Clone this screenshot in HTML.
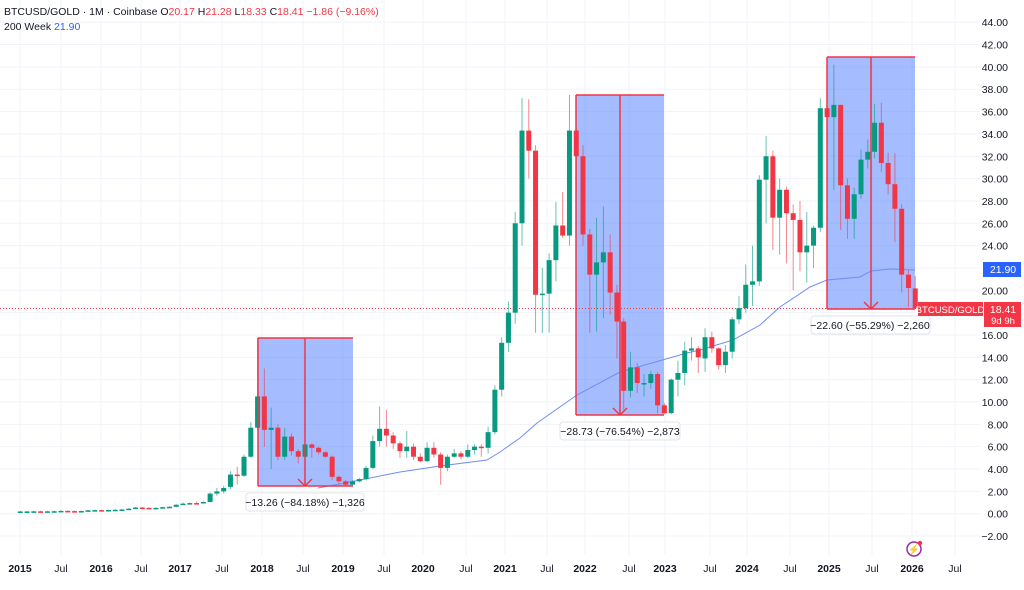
<!DOCTYPE html>
<html><head><meta charset="utf-8"><style>
body{margin:0;background:#fff;font-family:"Liberation Sans",sans-serif}
svg text{font-family:"Liberation Sans",sans-serif}
</style></head><body>
<svg id="c" width="1024" height="585" xmlns="http://www.w3.org/2000/svg">
<g id="grid" stroke="#f0f3fa" stroke-width="1"></g>
<g id="boxes">
<rect x="258" y="338" width="95" height="148" fill="rgba(41,98,255,0.42)"/>
<rect x="576" y="95" width="88" height="320" fill="rgba(41,98,255,0.42)"/>
<rect x="827" y="57" width="88" height="252" fill="rgba(41,98,255,0.42)"/>
</g>
<line x1="0" y1="308.5" x2="985" y2="308.5" stroke="#f23645" stroke-width="1" stroke-dasharray="1,2"/>
<polyline fill="none" stroke="#6f8cf7" stroke-width="1" points="318,488 360,480 400,472 440,466 487,460 500,452 520,438 537,423 577,395 620,372 687,353 700,350 733,340 760,325 780,307 810,287 827,280 860,277 871,271 890,269 915,270"/>
<g id="candles"></g>
<g stroke="#f23645" stroke-width="1.5" fill="none">
<path d="M258,338H353M258,486H353M305,338V486M298,479L305,486L312,479M258,338V486"/>
<path d="M576,95H664M576,415H664M620,95V415M613,408L620,415L627,408M576,95V415"/>
<path d="M827,57H915M827,309H915M871,57V309M864,302L871,309L878,302M827,57V309"/>
</g>
<g font-size="10.5" fill="#131722">
<rect x="246" y="493" width="118" height="18" rx="3" fill="#fff" stroke="#e0e3eb"/><text x="305" y="506" text-anchor="middle">−13.26 (−84.18%) −1,326</text>
<rect x="560" y="422" width="120" height="18" rx="3" fill="#fff" stroke="#e0e3eb"/><text x="620" y="435" text-anchor="middle">−28.73 (−76.54%) −2,873</text>
<rect x="811" y="316" width="119" height="18" rx="3" fill="#fff" stroke="#e0e3eb"/><text x="870" y="329" text-anchor="middle">−22.60 (−55.29%) −2,260</text>
</g>
<g id="yl" font-size="10.5" fill="#131722"></g>
<g id="xl" font-size="10.5" fill="#131722"></g>
<rect x="983" y="262" width="38" height="15" fill="#2962ff"/><text x="1003" y="273" font-size="10.5" fill="#fff" text-anchor="middle">21.90</text>
<rect x="918" y="302" width="65" height="14" fill="#f23645"/><text x="950" y="313" font-size="9.5" fill="#fff" text-anchor="middle">BTCUSD/GOLD</text>
<rect x="984" y="302" width="37" height="25" fill="#f23645"/><text x="1003" y="313" font-size="10.5" fill="#fff" text-anchor="middle">18.41</text><text x="1003" y="324" font-size="9.5" fill="#fff" text-anchor="middle">9d 9h</text>
<circle cx="914" cy="549" r="7" fill="none" stroke="#9c27b0" stroke-width="1.5"/><text x="914" y="553" font-size="10" fill="#9c27b0" text-anchor="middle">⚡</text><circle cx="920" cy="543" r="2.2" fill="#f23645"/>
<text x="4" y="15" font-size="10.5" fill="#131722">BTCUSD/GOLD · 1M · Coinbase  O<tspan fill="#f23645">20.17</tspan> H<tspan fill="#f23645">21.28</tspan> L<tspan fill="#f23645">18.33</tspan> C<tspan fill="#f23645">18.41 −1.86 (−9.16%)</tspan></text>
<text x="4" y="30" font-size="10.5" fill="#131722">200 Week <tspan fill="#2962ff">21.90</tspan></text>
</svg>
<script>
var NS="http://www.w3.org/2000/svg";
function Y(v){return 513.7-11.17*v;}
function el(p,t,a,txt){var e=document.createElementNS(NS,t);for(var k in a)e.setAttribute(k,a[k]);if(txt)e.textContent=txt;document.getElementById(p).appendChild(e);}
for(var v=-2;v<=44;v+=2){el("grid","line",{x1:0,x2:980,y1:Y(v),y2:Y(v)});if(v!=22&&v!=18)el("yl","text",{x:1008,y:Y(v)+4,"text-anchor":"end"},(v<0?"−":"")+Math.abs(v).toFixed(2));}
var xs=[["2015",20],["Jul",61],["2016",101],["Jul",141],["2017",180],["Jul",222],["2018",262],["Jul",303],["2019",343],["Jul",384],["2020",423],["Jul",466],["2021",505],["Jul",547],["2022",585],["Jul",629],["2023",665],["Jul",710],["2024",747],["Jul",790],["2025",829],["Jul",872],["2026",912],["Jul",955]];
xs.forEach(function(a){el("grid","line",{x1:a[1],x2:a[1],y1:0,y2:555});var b=a[0]!="Jul";el("xl","text",{x:a[1],y:572,"text-anchor":"middle","font-weight":b?"bold":"normal"},a[0]);});
var d=[];
var early=[.2,.2,.21,.2,.21,.22,.25,.23,.22,.24,.3,.32,.3,.33,.35,.38,.45,.55,.52,.5,.52,.58,.62,.8];
var p=.2;early.forEach(function(c){d.push([p,c,Math.max(p,c)+.05,Math.min(p,c)-.05]);p=c;});
d=d.concat([[.8,.9,1,.8],[.9,.95,1,.85],[.95,.9,1.1,.85],[.95,1.05,1.1,.9],[1.05,1.8,1.9,1],[1.8,2,2.3,1.6],[2,2.3,2.5,1.8],[2.4,3.5,3.8,2.2],[3.5,3.4,4.2,2.6],[3.4,5.1,5.3,3.3],[5.1,7.7,8.2,5],[7.7,10.5,15.7,7.5],
[10.5,7.5,13,6],[7.5,7.7,9.5,4],[7.7,5.1,8,4.8],[5.1,6.9,7.7,4.8],[6.9,5.6,7.2,5.2],[5.6,5.1,5.8,4.5],[5.1,6.2,7,4.9],[6.2,5.9,6.3,5],[5.9,5.5,6,5.3],[5.5,5.1,5.6,5],[5.1,3.3,5.2,3],[3.3,2.9,3.4,2.6],
[2.9,2.6,3,2.5],[2.6,2.9,3,2.5],[2.9,3.1,3.2,2.8],[3.1,4.1,4.3,3],[4.1,6.5,7,4],[6.5,7.6,9.6,6],[7.6,7,9.3,6],[7,6.3,7.3,5.8],[6.3,5.6,6.5,5],[5.6,6,7.4,5],[6,5.1,6.3,4.8],[5.1,4.7,5.4,4.6],
[4.7,5.9,6.4,4.6],[5.9,5.3,6.4,5],[5.3,4.1,5.5,2.6],[4.1,5.1,5.3,3.8],[5.1,5.4,5.8,5],[5.4,5.1,5.6,4.9],[5.1,5.7,6.2,5],[5.7,6,6.2,5.3],[6,5.9,6.2,5.1],[5.9,7.3,7.8,5.4],[7.3,11.1,11.5,7.1],[11.1,15.3,15.8,10.5],
[15.3,18,19,14.5],[18,26,27,17],[26,34.3,37.2,24],[34.3,32.5,37.1,30],[32.5,19.6,33,16.2],[19.6,19.7,22,16.2],[19.7,22.7,23.3,16.2],[22.7,25.8,27.9,20.8],[25.8,24.9,28.8,24.7],[24.9,34.3,37.5,24],[34.3,32,34.5,29],[32,25,33,24],
[25,21.4,25.5,16.2],[21.4,22.5,26.5,16.3],[22.5,23.4,27.5,17.5],[23.4,19.8,25,17.8],[19.8,17.2,20.5,13.9],[17.2,11,17.5,9.3],[11,13.1,14.5,10.4],[13.1,11.7,13.5,10.8],[11.7,11.7,12.5,10.5],[11.7,12.5,12.8,11.2],[12.5,9.7,12.7,9],[9.7,9,9.9,8.9],
[9,12,12.1,8.9],[12,12.6,13.7,10.5],[12.6,14.6,15.4,11.5],[14.6,14.8,15.8,13.7],[14.8,14,15,12.6],[13.9,15.8,16.6,12.7],[15.8,14.8,16.3,14.4],[14.8,13.3,14.9,12.9],[13.3,14.5,15.1,12.6],[14.5,17.4,17.6,13.9],[17.4,18.4,19.5,17],[18.4,20.5,22.3,18],
[20.5,20.8,24,18.6],[20.8,29.9,30.3,20.4],[29.9,32,33.8,26],[32,26.5,32.5,23.6],[26.5,29,30,23.2],[29,26.9,29.3,22.4],[26.9,26.3,27.7,20],[26.3,23.4,28,21.7],[23.4,24,27,20.7],[24,25.6,25.8,22],[25.6,36.3,37.2,25.2],[36.3,35.5,36.5,33],
[35.5,36.6,40.2,29],[36.6,29.4,36.6,25.4],[29.4,26.4,30,24.6],[26.4,28.6,29.2,24.6],[28.6,31.7,32.6,28.2],[31.7,32.4,33.5,30.9],[32.4,35,36.7,31.8],[35,31.4,36.8,30.6],[31.4,29.5,32.3,28.6],[29.5,27.3,32.3,24.3],[27.3,21.4,27.7,19.8],[21.4,20.2,21.8,18.5],[20.17,18.41,21.28,18.33]]);
var x0=183-24*6.78;
d.forEach(function(c,i){var x=x0+i*6.78,up=c[1]>=c[0],col=up?"#089981":"#f23645";
el("candles","line",{x1:x,x2:x,y1:Y(c[2]),y2:Y(c[3]),stroke:col,"stroke-opacity":.6,"stroke-width":1});
var t=Y(Math.max(c[0],c[1])),b=Y(Math.min(c[0],c[1]));if(b-t<1.5)b=t+1.5;
el("candles","rect",{x:x-2.5,y:t,width:5,height:b-t,fill:col});});
</script>
</body></html>
